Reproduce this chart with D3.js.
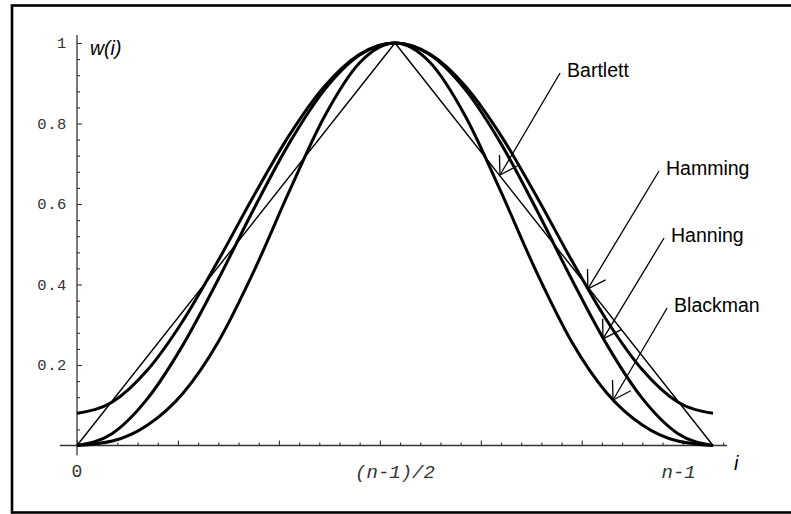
<!DOCTYPE html>
<html>
<head>
<meta charset="utf-8">
<script src="https://cdn.jsdelivr.net/npm/d3@7/dist/d3.min.js"></script>
<style>
  html, body { margin: 0; padding: 0; background: #fff; }
  svg { display: block; }
</style>
</head>
<body>
<svg id="chart" width="791" height="514"></svg>
<script>
// ---- data ----
const iValues   = [0, 3.5, 7, 10.5, 14, 17.5, 21, 24.5, 28, 31.5, 35, 38.5, 42, 45.5, 49, 52.5, 56, 59.5, 63];
const hamming   = [0.08, 0.108, 0.188, 0.31, 0.46, 0.62, 0.77, 0.892, 0.972, 1.0, 0.972, 0.892, 0.77, 0.62, 0.46, 0.31, 0.188, 0.108, 0.08];
const hanning   = [0, 0.03, 0.117, 0.25, 0.413, 0.587, 0.75, 0.883, 0.97, 1.0, 0.97, 0.883, 0.75, 0.587, 0.413, 0.25, 0.117, 0.03, 0];
const blackman  = [0, 0.011, 0.051, 0.13, 0.258, 0.432, 0.63, 0.817, 0.951, 1.0, 0.951, 0.817, 0.63, 0.432, 0.258, 0.13, 0.051, 0.011, 0];
const bartlettI = [0, 31.5, 63];
const bartlett  = [0, 1, 0];

const yTickValues = [0.2, 0.4, 0.6, 0.8, 1];
const yTickLabels = ["0.2", "0.4", "0.6", "0.8", "1"];
const xTickValues = [0, 31.5, 59.6];
const xTickLabels = ["0", "(n-1)/2", "n-1"];

const seriesNames = ["Bartlett", "Hamming", "Hanning", "Blackman"];
// arrow tips on the curves (i, w) and arrow tails (i, w)
const arrowTipI  = [41.9, 50.6, 52.1, 53.1];
const arrowTipW  = [0.672, 0.389, 0.265, 0.113];
const arrowTailI = [47.85, 57.65, 58.15, 58.45];
const arrowTailW = [0.9255, 0.682, 0.5155, 0.3416];

// ---- layout ----
const svg = d3.select("#chart");
const x = d3.scaleLinear().domain([0, 63]).range([77, 713]);
const y = d3.scaleLinear().domain([0, 1]).range([445.5, 43]);

// outer frame
svg.append("rect")
  .attr("x", 12).attr("y", 5.5)
  .attr("width", 820).attr("height", 507)
  .attr("fill", "none").attr("stroke", "#000").attr("stroke-width", 2.6);

// axes lines
const axisColor = "#333";
svg.append("line")
  .attr("x1", x(-1.7)).attr("x2", x(64.4))
  .attr("y1", y(0)).attr("y2", y(0))
  .attr("stroke", axisColor).attr("stroke-width", 1.3);
svg.append("line")
  .attr("x1", x(0)).attr("x2", x(0))
  .attr("y1", y(-0.024)).attr("y2", y(1.02))
  .attr("stroke", axisColor).attr("stroke-width", 1.3);

// x ticks (pointing up, inside)
const xMinor = d3.range(0, 65, 2).filter(v => v % 10 !== 0);
const xMajor = d3.range(0, 61, 10);
const xAxisMinor = d3.axisBottom(x).tickValues(xMinor).tickSize(-3).tickFormat("");
const xAxisMajor = d3.axisBottom(x).tickValues(xMajor).tickSize(-5).tickFormat("");
[xAxisMinor, xAxisMajor].forEach(ax => {
  const g = svg.append("g").attr("transform", `translate(0,${y(0)})`).call(ax);
  g.select(".domain").remove();
  g.selectAll(".tick line").attr("stroke", axisColor).attr("stroke-width", 1.1);
});

// y ticks (pointing right, inside)
const yMinor = d3.range(1, 26).map(k => +(k * 0.04).toFixed(2)).filter(v => Math.abs(v / 0.2 - Math.round(v / 0.2)) > 1e-6);
const yAxisMinor = d3.axisLeft(y).tickValues(yMinor).tickSize(-3).tickFormat("");
const yAxisMajor = d3.axisLeft(y).tickValues(yTickValues).tickSize(-5).tickFormat("");
[yAxisMinor, yAxisMajor].forEach(ax => {
  const g = svg.append("g").attr("transform", `translate(${x(0)},0)`).call(ax);
  g.select(".domain").remove();
  g.selectAll(".tick line").attr("stroke", axisColor).attr("stroke-width", 1.1);
});

// y tick labels
svg.append("g").selectAll("text")
  .data(yTickValues)
  .join("text")
  .attr("x", x(0) - 10)
  .attr("y", d => y(d) + 5)
  .attr("text-anchor", "end")
  .attr("font-family", "'Liberation Mono', 'DejaVu Sans Mono', monospace")
  .attr("font-size", 15.5)
  .attr("letter-spacing", 0.6)
  .attr("fill", "#333")
  .text((d, i) => yTickLabels[i]);

// x tick labels
svg.append("g").selectAll("text")
  .data(xTickValues)
  .join("text")
  .attr("x", d => x(d))
  .attr("y", (d, i) => i === 0 ? 477 : 478)
  .attr("text-anchor", "middle")
  .attr("font-family", "'Liberation Mono', 'DejaVu Sans Mono', monospace")
  .attr("font-size", (d, i) => i === 0 ? 18 : 19)
  .attr("font-style", (d, i) => i === 0 ? "normal" : "italic")
  .attr("fill", "#333")
  .text((d, i) => xTickLabels[i]);

// axis labels
svg.append("text")
  .attr("x", 90).attr("y", 55)
  .attr("font-family", "'Liberation Sans', Arial, sans-serif")
  .attr("font-size", 19.5).attr("font-style", "italic")
  .text("w(i)");
svg.append("text")
  .attr("x", 734).attr("y", 470)
  .attr("font-family", "'Liberation Sans', Arial, sans-serif")
  .attr("font-size", 20).attr("font-style", "italic")
  .text("i");

// curves
const line = d3.line()
  .x(d => x(d[0]))
  .y(d => y(d[1]))
  .curve(d3.curveMonotoneX);

[hamming, hanning, blackman].forEach(vals => {
  svg.append("path")
    .datum(iValues.map((v, k) => [v, vals[k]]))
    .attr("d", line)
    .attr("fill", "none")
    .attr("stroke", "#000")
    .attr("stroke-width", 3)
    .attr("stroke-linejoin", "round");
});

svg.append("path")
  .datum(bartlettI.map((v, k) => [v, bartlett[k]]))
  .attr("d", d3.line().x(d => x(d[0])).y(d => y(d[1])))
  .attr("fill", "none")
  .attr("stroke", "#000")
  .attr("stroke-width", 1.4);

// annotations with open arrowheads
const headLen = 20, headAng = 32 * Math.PI / 180;
seriesNames.forEach((name, k) => {
  const tx = x(arrowTipI[k]), ty = y(arrowTipW[k]);
  const sx = x(arrowTailI[k]), sy = y(arrowTailW[k]);
  const g = svg.append("g").attr("stroke", "#000").attr("stroke-width", 1.3).attr("fill", "none");
  g.append("line").attr("x1", sx).attr("y1", sy).attr("x2", tx).attr("y2", ty);
  const a = Math.atan2(sy - ty, sx - tx);
  [a - headAng, a + headAng].forEach(b => {
    g.append("line")
      .attr("x1", tx).attr("y1", ty)
      .attr("x2", tx + headLen * Math.cos(b))
      .attr("y2", ty + headLen * Math.sin(b));
  });
  svg.append("text")
    .attr("x", sx + 7)
    .attr("y", sy + 4)
    .attr("font-family", "'Liberation Sans', Arial, sans-serif")
    .attr("font-size", 19.5)
    .attr("fill", "#000")
    .text(name);
});
</script>
</body>
</html>
